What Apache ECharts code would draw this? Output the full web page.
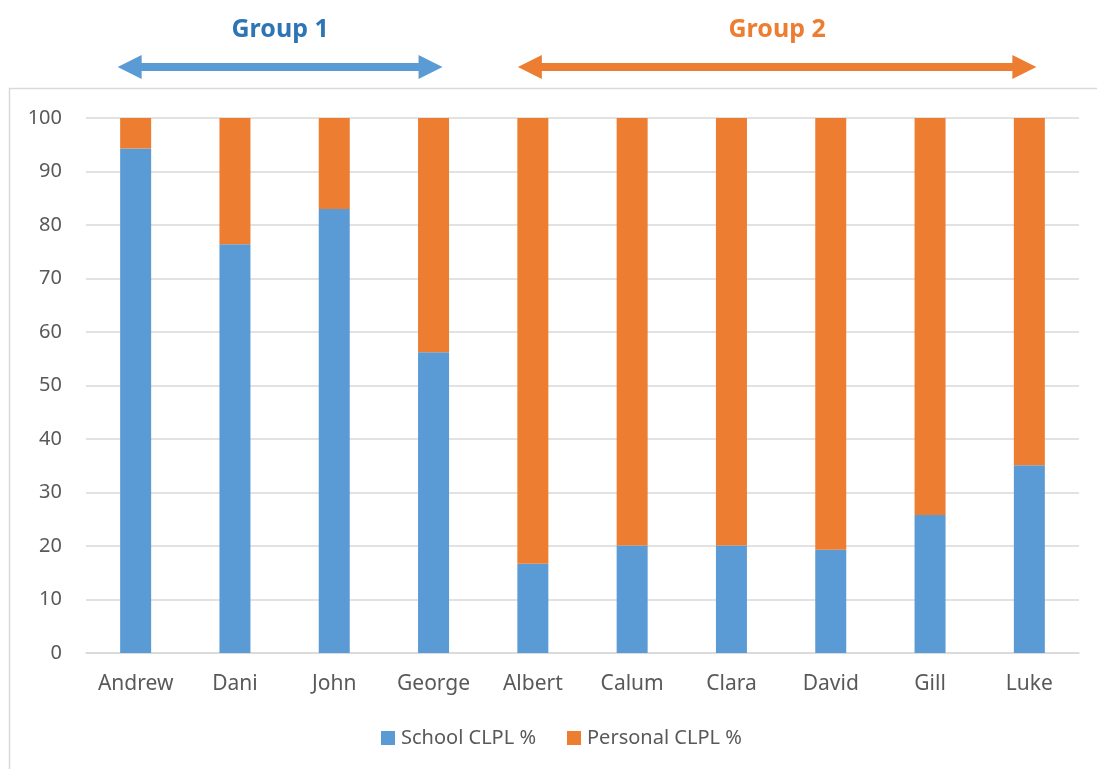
<!DOCTYPE html>
<html>
<head>
<meta charset="utf-8">
<title>School vs Personal CLPL %</title>
<script src="https://cdn.jsdelivr.net/npm/echarts@6/dist/echarts.min.js"></script>
<style>
  html, body { margin: 0; padding: 0; background: #ffffff; }
  #chart { width: 1097px; height: 769px; }
</style>
</head>
<body>
<div id="chart"></div>
<script>
// Pupils, in the order they appear along the axis
const names = ['Andrew', 'Dani', 'John', 'George', 'Albert', 'Calum', 'Clara', 'David', 'Gill', 'Luke'];
// Share of CLPL time spent on school-led learning (%)
const schoolPct = [94.3, 76.4, 83.0, 56.2, 16.7, 20.1, 20.1, 19.3, 25.8, 35.1];
// Share of CLPL time spent on personal learning (%)
const personalPct = [5.7, 23.6, 17.0, 43.8, 83.3, 79.9, 79.9, 80.7, 74.2, 64.9];
// Value-axis ticks
const yTicks = [0, 10, 20, 30, 40, 50, 60, 70, 80, 90, 100];
// Pupil groupings shown above the plot
const groups = [
  { label: 'Group 1', first: 'Andrew', last: 'George', color: '#2E75B6', arrow: '#5B9BD5', padL: 18, padR: 9 },
  { label: 'Group 2', first: 'Albert', last: 'Luke', color: '#ED7D31', arrow: '#ED7D31', padL: 15, padR: 7 }
];

const FONT = '"Noto Sans", "Open Sans", sans-serif';
const TEXT = '#595959';

const chart = echarts.init(document.getElementById('chart'), null, { renderer: 'canvas' });

const option = {
  animation: false,
  backgroundColor: '#ffffff',
  textStyle: { fontFamily: FONT },
  grid: { left: 86, right: 18, top: 118, bottom: 116, containLabel: false },
  legend: {
    bottom: 16,
    left: 376,
    itemWidth: 14,
    itemHeight: 14,
    itemGap: 31,
    icon: 'rect',
    textStyle: { color: TEXT, fontSize: 20, fontFamily: FONT, padding: [0, 0, 0, 1] },
    data: ['School CLPL %', 'Personal CLPL %']
  },
  xAxis: {
    type: 'category',
    data: names,
    axisLine: { show: true, lineStyle: { color: '#D9D9D9', width: 1.5 } },
    axisTick: { show: false },
    axisLabel: { color: TEXT, fontSize: 21, margin: 21, fontFamily: FONT }
  },
  yAxis: {
    type: 'value',
    min: yTicks[0],
    max: yTicks[yTicks.length - 1],
    interval: yTicks[1] - yTicks[0],
    axisLine: { show: false },
    axisTick: { show: false },
    axisLabel: { color: TEXT, fontSize: 20, margin: 24, fontFamily: FONT },
    splitLine: { lineStyle: { color: '#D9D9D9', width: 1.5 } }
  },
  series: [
    {
      name: 'School CLPL %',
      type: 'bar',
      stack: 'clpl',
      barWidth: 31,
      data: schoolPct,
      itemStyle: { color: '#5B9BD5' }
    },
    {
      name: 'Personal CLPL %',
      type: 'bar',
      stack: 'clpl',
      barWidth: 31,
      data: personalPct,
      itemStyle: { color: '#ED7D31' }
    }
  ]
};

chart.setOption(option);

// Double-headed arrow polygon between x0 and x1 at height y
function arrowPoints(x0, x1, y) {
  const shaft = 4, head = 12, len = 24;
  return [
    [x0, y],
    [x0 + len, y - head],
    [x0 + len, y - shaft],
    [x1 - len, y - shaft],
    [x1 - len, y - head],
    [x1, y],
    [x1 - len, y + head],
    [x1 - len, y + shaft],
    [x0 + len, y + shaft],
    [x0 + len, y + head]
  ];
}

const graphics = [
  {
    type: 'rect',
    silent: true,
    z: -1,
    shape: { x: 9.5, y: 88.5, width: 1200, height: 800 },
    style: { fill: 'none', stroke: '#D9D9D9', lineWidth: 1.5 }
  }
];

groups.forEach(function (g) {
  const x0 = chart.convertToPixel({ xAxisIndex: 0 }, g.first) - g.padL;
  const x1 = chart.convertToPixel({ xAxisIndex: 0 }, g.last) + g.padR;
  graphics.push({
    type: 'polygon',
    silent: true,
    shape: { points: arrowPoints(x0, x1, 67) },
    style: { fill: g.arrow }
  });
  graphics.push({
    type: 'text',
    silent: true,
    x: (x0 + x1) / 2,
    y: 30,
    style: {
      text: g.label,
      fill: g.color,
      font: 'bold 25px ' + FONT,
      align: 'center',
      verticalAlign: 'middle'
    }
  });
});

chart.setOption({ graphic: graphics });
</script>
</body>
</html>
